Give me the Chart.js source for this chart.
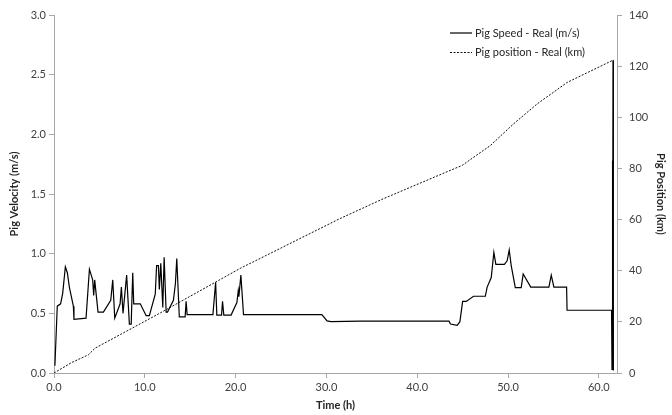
<!DOCTYPE html>
<html>
<head>
<meta charset="utf-8">
<script src="https://cdn.jsdelivr.net/npm/chart.js@4"></script>
<style>
  html, body { margin: 0; padding: 0; background: #fff; }
  #wrap { width: 672px; height: 415px; }
</style>
</head>
<body>
<div id="wrap"><canvas id="chart" width="672" height="415"></canvas></div>
<script>
// pig speed: time (h) / speed (m/s)
var speedTime = [
  0.1, 0.36, 0.73, 0.96, 1.25, 1.47, 1.69, 2.13, 2.2, 3.53,
  3.9, 4.26, 4.37, 4.48, 4.85, 5.44, 6.25, 6.47, 6.69, 7.28,
  7.42, 7.6, 8.0, 8.3, 8.5, 8.67, 8.78, 9.5, 10.15, 10.5,
  11.15, 11.3, 11.5, 11.6, 11.76, 11.98, 12.13, 12.35, 12.5, 13.15,
  13.37, 13.52, 13.8, 14.44, 14.55, 14.66, 17.5, 17.8, 17.93, 18.45,
  18.56, 18.7, 19.5, 20.14, 20.29, 20.36, 20.58, 20.87, 29.5, 30.07,
  30.5, 33.7, 43.5, 43.66, 44.4, 44.7, 45.0, 45.4, 46.2, 47.5,
  47.7, 48.15, 48.44, 48.66, 49.6, 49.9, 50.13, 50.35, 50.8, 51.45,
  51.67, 52.5, 54.5, 54.76, 55.05, 56.45, 56.5, 61.4, 61.45, 61.48,
  61.5, 61.52, 61.54, 61.56, 61.58, 61.6, 61.62
];
var speedValue = [
  0.06, 0.56, 0.58, 0.67, 0.89, 0.84, 0.72, 0.56, 0.45, 0.46,
  0.87, 0.78, 0.65, 0.78, 0.51, 0.51, 0.61, 0.78, 0.46, 0.58,
  0.72, 0.50, 0.82, 0.41, 0.41, 0.84, 0.58, 0.58, 0.48, 0.48,
  0.66, 0.90, 0.90, 0.70, 0.92, 0.55, 0.97, 0.51, 0.51, 0.61,
  0.75, 0.96, 0.47, 0.47, 0.60, 0.49, 0.49, 0.76, 0.485, 0.485,
  0.60, 0.485, 0.485, 0.59, 0.69, 0.64, 0.82, 0.49, 0.49, 0.437,
  0.43, 0.434, 0.434, 0.41, 0.40, 0.43, 0.60, 0.60, 0.643, 0.643,
  0.72, 0.80, 1.01, 0.91, 0.91, 0.94, 1.03, 0.90, 0.716, 0.716,
  0.83, 0.72, 0.72, 0.82, 0.72, 0.72, 0.526, 0.526, 0.03, 1.78,
  0.05, 1.7, 0.03, 2.62, 0.1, 1.4, 0.02
];

// pig position: time (h) / distance (km)
var posTime = [0, 1.95, 3.78, 4.52, 11.3, 20.5, 31.5, 36.3, 44.95, 48.07, 50.6, 53.2, 56.5, 61.6];
var posKm = [0, 4.1, 7.1, 9.7, 22.7, 40.9, 60.4, 68.2, 81.2, 89.0, 97.4, 105.2, 113.6, 122.4];

var speedLabel = "Pig Speed - Real (m/s)";
var posLabel = "Pig position - Real (km)";

function pairs(xs, ys) {
  var out = [];
  for (var i = 0; i < xs.length; i++) out.push({ x: xs[i], y: ys[i] });
  return out;
}

var font = "Lato, 'Open Sans', sans-serif";
var axisGrey = "#a6a6a6";
var tickText = "#404040";

// legend drawn inside the plot, top right, like the original
var insideLegend = {
  id: "insideLegend",
  afterDraw: function (chart) {
    var ctx = chart.ctx;
    var rows = chart.data.datasets;
    ctx.save();
    ctx.font = "11px " + font;
    ctx.textBaseline = "middle";
    ctx.fillStyle = "#262626";
    for (var i = 0; i < rows.length; i++) {
      var y = 33 + i * 19.5;
      ctx.beginPath();
      ctx.strokeStyle = rows[i].borderColor;
      ctx.lineWidth = rows[i].borderWidth;
      ctx.setLineDash(rows[i].borderDash || []);
      ctx.moveTo(450, y);
      ctx.lineTo(472, y);
      ctx.stroke();
      ctx.fillText(rows[i].label, 475, y);
    }
    ctx.restore();
  },
};

new Chart(document.getElementById("chart"), {
  type: "line",
  data: {
    datasets: [
      {
        label: speedLabel,
        data: pairs(speedTime, speedValue),
        borderColor: "#000",
        borderWidth: 1.2,
        pointRadius: 0,
        tension: 0,
        fill: false,
        yAxisID: "y",
      },
      {
        label: posLabel,
        data: pairs(posTime, posKm),
        borderColor: "#111",
        borderWidth: 1,
        borderDash: [2, 1.5],
        pointRadius: 0,
        tension: 0,
        fill: false,
        yAxisID: "y1",
      },
    ],
  },
  options: {
    responsive: false,
    animation: false,
    layout: { padding: { top: 15, left: 0, right: 0, bottom: 0 } },
    plugins: { legend: { display: false }, tooltip: { enabled: false } },
    scales: {
      x: {
        type: "linear",
        min: 0,
        max: 62,
        afterFit: function (s) { s.height = 42; },
        border: { color: axisGrey, width: 1 },
        grid: { drawOnChartArea: false, drawTicks: true, tickLength: 5, color: axisGrey },
        ticks: {
          stepSize: 10,
          includeBounds: false,
          maxRotation: 0,
          padding: 3,
          color: tickText,
          font: { family: font, size: 11 },
          callback: function (v) { return v.toFixed(1); },
        },
        title: {
          display: true,
          text: "Time (h)",
          color: "#262626",
          padding: { top: 0, bottom: 3 },
          font: { family: font, size: 11, weight: "bold" },
        },
      },
      y: {
        position: "left",
        min: 0,
        max: 3,
        afterFit: function (s) { s.width = 54; },
        border: { color: axisGrey, width: 1 },
        grid: { drawOnChartArea: false, drawTicks: true, tickLength: 5, color: axisGrey },
        ticks: {
          stepSize: 0.5,
          padding: 3,
          color: tickText,
          font: { family: font, size: 11 },
          callback: function (v) { return v.toFixed(1); },
        },
        title: {
          display: true,
          text: "Pig Velocity (m/s)",
          color: "#262626",
          padding: { top: 8, bottom: 0 },
          font: { family: font, size: 11, weight: "bold" },
        },
      },
      y1: {
        position: "right",
        min: 0,
        max: 140,
        afterFit: function (s) { s.width = 55; },
        border: { color: axisGrey, width: 1 },
        grid: { drawOnChartArea: false, drawTicks: true, tickLength: 5, color: axisGrey },
        ticks: {
          stepSize: 20,
          padding: 7,
          color: tickText,
          font: { family: font, size: 11 },
        },
        title: {
          display: true,
          text: "Pig Position (km)",
          color: "#262626",
          padding: { top: 5, bottom: 0 },
          font: { family: font, size: 11, weight: "bold" },
        },
      },
    },
  },
  plugins: [insideLegend],
});
</script>
</body>
</html>
